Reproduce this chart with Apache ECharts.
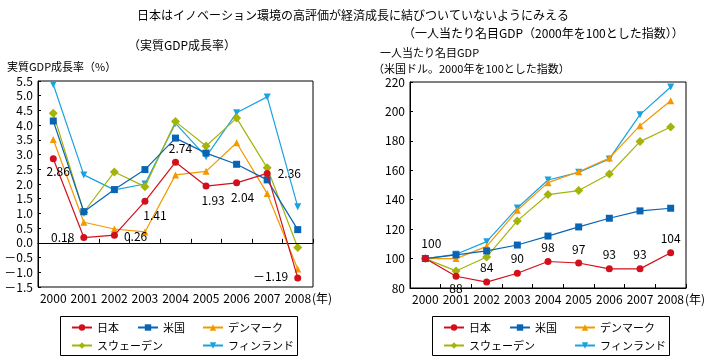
<!DOCTYPE html>
<html>
<head>
<meta charset="utf-8">
<script src="https://cdn.jsdelivr.net/npm/echarts@6/dist/echarts.min.js"></script>
<style>
html,body{margin:0;padding:0;background:#fff;}
#c{width:716px;height:364px;}
</style>
</head>
<body>
<div id="c"></div>
<script>
// ---- data ----
const years = ['2000','2001','2002','2003','2004','2005','2006','2007','2008'];
const seriesNames = ['日本','米国','デンマーク','スウェーデン','フィンランド'];

// Real GDP growth rate (%)
const growthJapan   = [2.86, 0.18, 0.26, 1.41, 2.74, 1.93, 2.04, 2.36, -1.19];
const growthUS      = [4.14, 1.06, 1.81, 2.49, 3.56, 3.05, 2.67, 2.14, 0.45];
const growthDenmark = [3.51, 0.70, 0.47, 0.37, 2.31, 2.43, 3.40, 1.68, -0.89];
const growthSweden  = [4.40, 1.04, 2.41, 1.91, 4.12, 3.29, 4.24, 2.55, -0.16];
const growthFinland = [5.38, 2.31, 1.80, 2.00, 4.06, 2.93, 4.42, 4.96, 1.23];

// Nominal GDP per capita (USD, 2000 = 100)
const indexJapan   = [100, 88, 84, 90, 98, 97, 93, 93, 104];
const indexUS      = [100, 102.5, 105.2, 109.2, 115.3, 121.5, 127.4, 132.4, 134.2];
const indexDenmark = [100, 100, 108.3, 132.8, 151.6, 159.0, 168.3, 190.3, 207.3];
const indexSweden  = [100, 91.6, 101.1, 125.6, 143.5, 146.2, 157.5, 179.5, 189.4];
const indexFinland = [100, 102.9, 111.5, 134.4, 153.4, 158.6, 167.7, 197.8, 216.6];

// tick settings
const leftMin = -1.5, leftMax = 5.5, leftStep = 0.5;
const rightMin = 80, rightMax = 220, rightStep = 20;

// ---- styles ----
const FONT = '"Noto Sans CJK JP", "Noto Sans", sans-serif';
const colors = ['#d2101c', '#0a64b4', '#f39800', '#a3b40a', '#1aa2de'];
const symbols = ['circle', 'rect', 'triangle', 'diamond', 'triangle'];
const symRot = [0, 0, 0, 0, 180];
const symSizes = [7, 7, 7, 9, 7];
const zs = [7, 6, 5, 4, 3];

// label placement for Japan values
const leftJapanLabelPos = [
  {position:'bottom', offset:[5,-1]}, {position:'left', offset:[-2,0]}, {position:'right', offset:[2,1]},
  {position:'bottom', offset:[10,1]}, {position:'top', offset:[5,0]}, {position:'bottom', offset:[7,1]},
  {position:'bottom', offset:[6,1]}, {position:'right', offset:[3,0]}, {position:'left', offset:[-2,-1]}
];
const rightJapanLabelPos = [
  {position:'top', offset:[6,-2]}, {position:'bottom', offset:[0,-1]}, {position:'top', offset:[0,-1]},
  {position:'top', offset:[0,-1]}, {position:'top', offset:[0,-1]}, {position:'top', offset:[0,0]},
  {position:'top', offset:[0,-1]}, {position:'top', offset:[0,-1]}, {position:'top', offset:[0,-1]}
];

function fmtNeg(v){
  return v < 0 ? '－' + Math.abs(v) : String(v);
}

const grids = [
  {left: 38, top: 81, width: 275, height: 206},
  {left: 410, top: 82, width: 276, height: 206}
];

function xAxisFor(gi){
  return {
    type: 'category', gridIndex: gi, data: years, boundaryGap: true,
    axisLine: {show: true, lineStyle: {color: '#000', width: 1}},
    axisTick: {show: true, inside: true, length: 4, lineStyle: {color: '#000'}},
    axisLabel: {
      color: '#000', fontSize: 12, fontFamily: FONT, margin: 5, interval: 0,
      formatter: function(v){ return v === '2008' ? '{p|}{a|2008}{b|(年)}' : '{a|' + v + '}'; },
      rich: {
        a: {fontSize: 12, fontFamily: FONT, color: '#000'},
        b: {fontSize: 12, fontFamily: FONT, color: '#000', width: 22},
        p: {width: 22}
      }
    },
    splitLine: {show: false}
  };
}

function yAxisFor(gi, min, max, step, fmt){
  return {
    type: 'value', gridIndex: gi, min: min, max: max, interval: step,
    axisLine: {show: true, lineStyle: {color: '#000'}},
    axisTick: {show: true, inside: true, length: 3, lineStyle: {color: '#000'}},
    axisLabel: {color: '#000', fontSize: 12, fontFamily: FONT, margin: 5, formatter: fmt},
    splitLine: {show: false}
  };
}

const leftData = [growthJapan, growthUS, growthDenmark, growthSweden, growthFinland];
const rightData = [indexJapan, indexUS, indexDenmark, indexSweden, indexFinland];

const series = [];
[leftData, rightData].forEach(function(set, gi){
  set.forEach(function(vals, i){
    const s = {
      name: seriesNames[i], type: 'line', xAxisIndex: gi, yAxisIndex: gi,
      data: vals.map(function(v, k){
        const d = {value: v};
        if (i === 0) {
          const p = (gi === 0 ? leftJapanLabelPos : rightJapanLabelPos)[k];
          d.label = {show: true, position: p.position, offset: p.offset};
        }
        return d;
      }),
      symbol: symbols[i], symbolSize: symSizes[i], symbolRotate: symRot[i],
      showAllSymbol: true,
      z: zs[i],
      lineStyle: {color: colors[i], width: 1.2},
      itemStyle: {color: colors[i], borderWidth: 0},
      emphasis: {disabled: true},
      animation: false
    };
    if (i === 0) {
      s.label = {
        show: true, color: '#000', fontSize: 12, fontFamily: FONT, distance: 4,
        formatter: function(p){ return gi === 0 ? fmtNeg(p.value.toFixed ? p.value.toFixed(2) * 1 === p.value ? p.value.toFixed(2) : p.value : p.value) : String(p.value); }
      };
      if (gi === 0) {
        s.label.formatter = function(p){ const v = p.value; return v < 0 ? '－' + Math.abs(v).toFixed(2) : v.toFixed(2); };
        s.markLine = {
          silent: true, symbol: 'none', label: {show: false},
          lineStyle: {color: '#000', type: 'solid', width: 1},
          data: [{yAxis: 0}], animation: false
        };
      }
    }
    series.push(s);
  });
});

// legends: one component per item, placed in a 3+2 grid layout
const legendCols = [66, 132, 197];
const legendRows = [317, 335];
const legendSlots = [[0,0],[0,1],[0,2],[1,0],[1,2]];
const legendOffsets = [0, 372];
const legends = [];
legendOffsets.forEach(function(ox){
  seriesNames.forEach(function(n, i){
    legends.push({
      left: legendCols[legendSlots[i][1]] + ox,
      top: legendRows[legendSlots[i][0]],
      data: [n], itemWidth: 20, itemHeight: 8, itemGap: 5,
      selectedMode: false,
      textStyle: {color: '#000', fontSize: 11, fontFamily: FONT, padding: [0,0,0,0]}
    });
  });
});

const txt = function(x, y, s, size, align){
  return {type: 'text', left: x, top: y, style: {text: s, fill: '#000', font: size + 'px ' + FONT, textAlign: align || 'left'}};
};

const option = {
  backgroundColor: '#fff',
  animation: false,
  textStyle: {fontFamily: FONT},
  grid: grids.map(function(g){ return Object.assign({show: true, borderColor: '#000', borderWidth: 1, backgroundColor: 'transparent'}, g); }),
  xAxis: [xAxisFor(0), xAxisFor(1)],
  yAxis: [
    yAxisFor(0, leftMin, leftMax, leftStep, function(v){ return v < 0 ? '－' + Math.abs(v).toFixed(1) : v.toFixed(1); }),
    yAxisFor(1, rightMin, rightMax, rightStep, function(v){ return String(v); })
  ],
  legend: legends,
  series: series,
  graphic: [
    txt(137, 9, '日本はイノベーション環境の高評価が経済成長に結びついていないようにみえる', 12),
    txt(403, 27, '（一人当たり名目GDP（2000年を100とした指数））', 12),
    txt(128, 39, '（実質GDP成長率）', 12),
    txt(380, 47, '一人当たり名目GDP', 11),
    txt(7, 61, '実質GDP成長率（%）', 11),
    txt(373, 63, '（米国ドル。2000年を100とした指数）', 11),
    {type: 'rect', left: 58, top: 314, shape: {width: 237, height: 39}, style: {fill: 'none', stroke: '#000', lineWidth: 1}},
    {type: 'rect', left: 430, top: 314, shape: {width: 237, height: 39}, style: {fill: 'none', stroke: '#000', lineWidth: 1}}
  ]
};

const chart = echarts.init(document.getElementById('c'), null, {renderer: 'canvas'});
chart.setOption(option);
</script>
</body>
</html>
